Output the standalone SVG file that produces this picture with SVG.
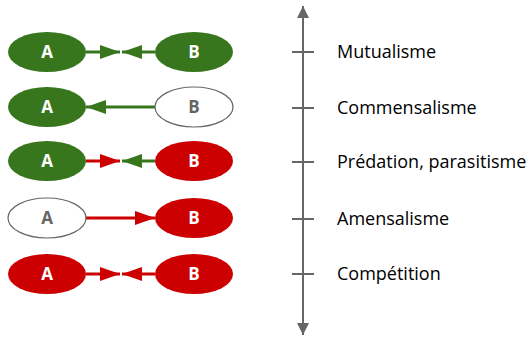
<svg xmlns="http://www.w3.org/2000/svg" width="531" height="338" viewBox="0 0 531 338">
  <style>
    .g { fill: #38761d; }
    .r { fill: #cc0000; }
    .w { fill: #ffffff; stroke: #666666; stroke-width: 1.2; }
    .lbl { font-family: "Open Sans", "DejaVu Sans", sans-serif; font-weight: bold; font-size: 17px; text-anchor: middle; fill: #ffffff; }
    .lbl.dim { fill: #666666; }
    .lg { stroke: #38761d; stroke-width: 3; fill: none; }
    .lr { stroke: #cc0000; stroke-width: 3; fill: none; }
    .ax { stroke: #666666; stroke-width: 2; fill: none; }
    .name { font-family: "Open Sans", "DejaVu Sans", sans-serif; font-size: 18px; fill: #000000; }
  </style>
  <defs>
    <marker id="hg" markerUnits="userSpaceOnUse" markerWidth="20" markerHeight="14" refX="20" refY="7" orient="auto">
      <path d="M0,0 L20,7 L0,14 Z" fill="#38761d"/>
    </marker>
    <marker id="hr" markerUnits="userSpaceOnUse" markerWidth="20" markerHeight="14" refX="20" refY="7" orient="auto">
      <path d="M0,0 L20,7 L0,14 Z" fill="#cc0000"/>
    </marker>
    <marker id="ha" markerUnits="userSpaceOnUse" markerWidth="12" markerHeight="12" refX="12" refY="6" orient="auto">
      <path d="M0,0 L12,6 L0,12 Z" fill="#666666"/>
    </marker>
  </defs>

  <!-- axis with ticks -->
  <g id="axis">
    <line class="ax" x1="303" y1="170" x2="303" y2="6" marker-end="url(#ha)"/>
    <line class="ax" x1="303" y1="170" x2="303" y2="335" marker-end="url(#ha)"/>
    <line class="ax" x1="292" y1="52" x2="314" y2="52"/>
    <line class="ax" x1="292" y1="108" x2="314" y2="108"/>
    <line class="ax" x1="292" y1="162" x2="314" y2="162"/>
    <line class="ax" x1="292" y1="219" x2="314" y2="219"/>
    <line class="ax" x1="292" y1="274" x2="314" y2="274"/>
  </g>

  <!-- interaction names -->
  <g id="names">
    <text class="name" x="337" y="58">Mutualisme</text>
    <text class="name" x="337" y="114">Commensalisme</text>
    <text class="name" x="337" y="168">Prédation, parasitisme</text>
    <text class="name" x="337" y="225">Amensalisme</text>
    <text class="name" x="337" y="280">Compétition</text>
  </g>

  <!-- connectors -->
  <g id="connectors">
    <line class="lg" x1="86" y1="52" x2="120" y2="52" marker-end="url(#hg)"/>
    <line class="lg" x1="155" y1="52" x2="122" y2="52" marker-end="url(#hg)"/>
    <line class="lg" x1="155" y1="107" x2="86" y2="107" marker-end="url(#hg)"/>
    <line class="lr" x1="86" y1="161" x2="120" y2="161" marker-end="url(#hr)"/>
    <line class="lg" x1="155" y1="161" x2="122" y2="161" marker-end="url(#hg)"/>
    <line class="lr" x1="86" y1="218" x2="155" y2="218" marker-end="url(#hr)"/>
    <line class="lr" x1="86" y1="274" x2="120" y2="274" marker-end="url(#hr)"/>
    <line class="lr" x1="155" y1="274" x2="122" y2="274" marker-end="url(#hr)"/>
  </g>

  <!-- row 1: mutualisme -->
  <g id="a1"><ellipse class="g" cx="47" cy="52" rx="39" ry="20"/><text class="lbl" x="47" y="58">A</text></g>
  <g id="b1"><ellipse class="g" cx="194" cy="52" rx="39" ry="20"/><text class="lbl" x="194" y="58">B</text></g>
  <!-- row 2: commensalisme -->
  <g id="a2"><ellipse class="g" cx="47" cy="107" rx="39" ry="20"/><text class="lbl" x="47" y="113">A</text></g>
  <g id="b2"><ellipse class="w" cx="194" cy="107" rx="39" ry="20"/><text class="lbl dim" x="194" y="113">B</text></g>
  <!-- row 3: predation -->
  <g id="a3"><ellipse class="g" cx="47" cy="161" rx="39" ry="20"/><text class="lbl" x="47" y="167">A</text></g>
  <g id="b3"><ellipse class="r" cx="194" cy="161" rx="39" ry="20"/><text class="lbl" x="194" y="167">B</text></g>
  <!-- row 4: amensalisme -->
  <g id="a4"><ellipse class="w" cx="47" cy="218" rx="39" ry="20"/><text class="lbl dim" x="47" y="224">A</text></g>
  <g id="b4"><ellipse class="r" cx="194" cy="218" rx="39" ry="20"/><text class="lbl" x="194" y="224">B</text></g>
  <!-- row 5: competition -->
  <g id="a5"><ellipse class="r" cx="47" cy="274" rx="39" ry="20"/><text class="lbl" x="47" y="280">A</text></g>
  <g id="b5"><ellipse class="r" cx="194" cy="274" rx="39" ry="20"/><text class="lbl" x="194" y="280">B</text></g>
</svg>
